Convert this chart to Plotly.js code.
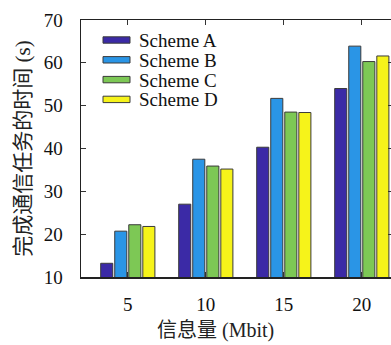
<!DOCTYPE html>
<html>
<head>
<meta charset="utf-8">
<script src="https://cdn.plot.ly/plotly-3.0.1.min.js"></script>
<style>
html,body{margin:0;padding:0;overflow:hidden;background:#fff;width:391px;height:345px;}
#chart{width:394px;height:345px;}
</style>
</head>
<body>
<div id="chart"></div>
<script>
// Data
const dataSizes = [5, 10, 15, 20];
const seriesNames = ["Scheme A", "Scheme B", "Scheme C", "Scheme D"];
const schemeA = [13.2, 27.0, 40.3, 54.0];
const schemeB = [20.7, 37.5, 51.7, 63.9];
const schemeC = [22.2, 35.9, 48.5, 60.3];
const schemeD = [21.8, 35.2, 48.4, 61.6];
const seriesColors = ["#3b2aa6", "#2a95e6", "#7dc855", "#f6f31a"];
const yTickVals = [10, 20, 30, 40, 50, 60, 70];
const xTitle = "信息量 (Mbit)";
const yTitle = "完成通信任务的时间 (s)";

const allSeries = [schemeA, schemeB, schemeC, schemeD];
const serif = "'Liberation Serif', 'Times New Roman', serif";
const cjk = "'Liberation Serif', 'Noto Sans CJK SC', serif";

const traces = allSeries.map((vals, i) => ({
  type: "bar",
  name: seriesNames[i],
  x: dataSizes,
  y: vals,
  marker: {color: seriesColors[i], line: {color: "#3a3a3a", width: 1}},
  showlegend: false,
  hoverinfo: "x+y"
}));

// plot geometry in pixels (for legend / title placement)
const W = 394, H = 345;
const mL = 81, mR = 1, mT = 20, mB = 68;
const pw = W - mL - mR, ph = H - mT - mB;
const px = v => (v - mL) / pw;
const py = v => (H - mB - v) / ph;

const shapes = [];
const annotations = [];
const rowY = [40, 59.8, 79.6, 99.4];
seriesNames.forEach((n, i) => {
  shapes.push({
    type: "rect", xref: "paper", yref: "paper",
    x0: px(103), x1: px(130), y0: py(rowY[i] + 3.2), y1: py(rowY[i] - 3.2),
    fillcolor: seriesColors[i], line: {color: "#3a3a3a", width: 1}
  });
  annotations.push({
    xref: "paper", yref: "paper", x: px(137), y: py(rowY[i] + 0.5),
    xanchor: "left", yanchor: "middle", showarrow: false,
    text: n, font: {family: serif, size: 19, color: "#111"}
  });
});
annotations.push({
  xref: "paper", yref: "paper", x: px(215), y: py(330),
  xanchor: "center", yanchor: "middle", showarrow: false,
  text: xTitle, font: {family: cjk, size: 20, color: "#222"}
});

const layout = {
  width: W, height: H,
  margin: {l: mL, r: mR, t: mT, b: mB, pad: 0},
  paper_bgcolor: "#fff", plot_bgcolor: "#fff",
  barmode: "group", bargap: 0.28, bargroupgap: 0.14,
  xaxis: {
    range: [2, 22], tickvals: dataSizes, ticktext: dataSizes.map(String),
    ticks: "inside", ticklen: 5, tickwidth: 1.2, tickcolor: "#333",
    showline: true, linecolor: "#222", linewidth: 1.5, mirror: "ticks",
    showgrid: false, zeroline: false, ticklabelstandoff: 10,
    tickfont: {family: serif, size: 19, color: "#111"}
  },
  yaxis: {
    range: [10, 70], tickvals: yTickVals,
    ticks: "inside", ticklen: 5, tickwidth: 1.2, tickcolor: "#333",
    showline: true, linecolor: "#222", linewidth: 1.5, mirror: "ticks",
    showgrid: false, zeroline: false, ticklabelstandoff: 13,
    tickfont: {family: serif, size: 19, color: "#111"},
    title: {text: yTitle, font: {family: cjk, size: 21, color: "#222"}, standoff: 7}
  },
  shapes: shapes,
  annotations: annotations,
  showlegend: false
};

Plotly.newPlot("chart", traces, layout, {staticPlot: true, displayModeBar: false});
</script>
</body>
</html>
